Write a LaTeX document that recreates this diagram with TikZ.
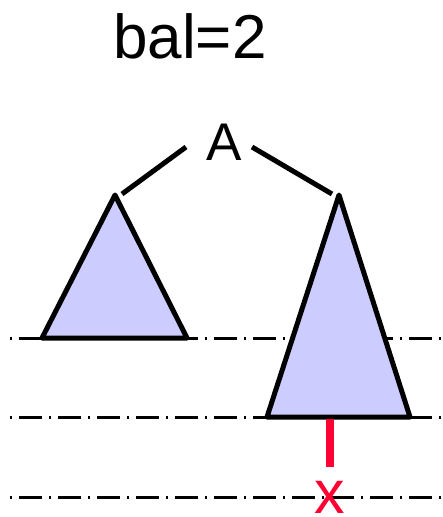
\documentclass[tikz,border=0pt]{standalone}
\usepackage{fontspec}
\setmainfont{Liberation Sans}
\definecolor{trifill}{HTML}{CCCCFF}
\definecolor{xred}{HTML}{FF0033}
\begin{document}
\begin{tikzpicture}[x=1pt,y=-1pt,
  tri/.style={draw=black,fill=trifill,line width=5pt,line join=round},
  edge/.style={draw=black,line width=5pt},
  level/.style={draw=black,line width=3pt,dash pattern=on 2pt off 7pt on 23pt off 7pt},
  lbl/.style={inner sep=0pt,anchor=base}]
\useasboundingbox (0,0) rectangle (442,517);
% levels
\coordinate (l1a) at (10,338); \coordinate (l1b) at (442,338);
\coordinate (l2a) at (10,417); \coordinate (l2b) at (442,417);
\coordinate (l3a) at (10,497); \coordinate (l3b) at (442,497);
\draw[level] (l1a) -- (l1b);
\draw[level] (l2a) -- (l2b);
\draw[level] (l3a) -- (l3b);
% title
\node[lbl,font=\fontsize{62}{62}\selectfont] (title) at (190,58) {bal=2};
% root
\node[lbl,font=\fontsize{53}{53}\selectfont] (A) at (224,160) {A};
% triangles
\coordinate (lt) at (115,195); \coordinate (ll) at (42,338); \coordinate (lr) at (187,338);
\coordinate (rt) at (339,195); \coordinate (rl) at (267,417); \coordinate (rr) at (410,417);
\draw[tri] (lt) -- (lr) -- (ll) -- cycle;
\draw[tri] (rt) -- (rr) -- (rl) -- cycle;
% edges
\coordinate (ea) at (186,147); \coordinate (eb) at (122,194);
\coordinate (ec) at (252,147); \coordinate (ed) at (332,194);
\draw[edge] (ea) -- (eb);
\draw[edge] (ec) -- (ed);
% inserted node
\coordinate (rb) at (330,419); \coordinate (xt) at (330,467);
\draw[xred,line width=8pt] (rb) -- (xt);
\node[lbl,text=xred,font=\fontsize{61}{61}\selectfont] (x) at (330,513.5) {x};
\end{tikzpicture}
\end{document}
